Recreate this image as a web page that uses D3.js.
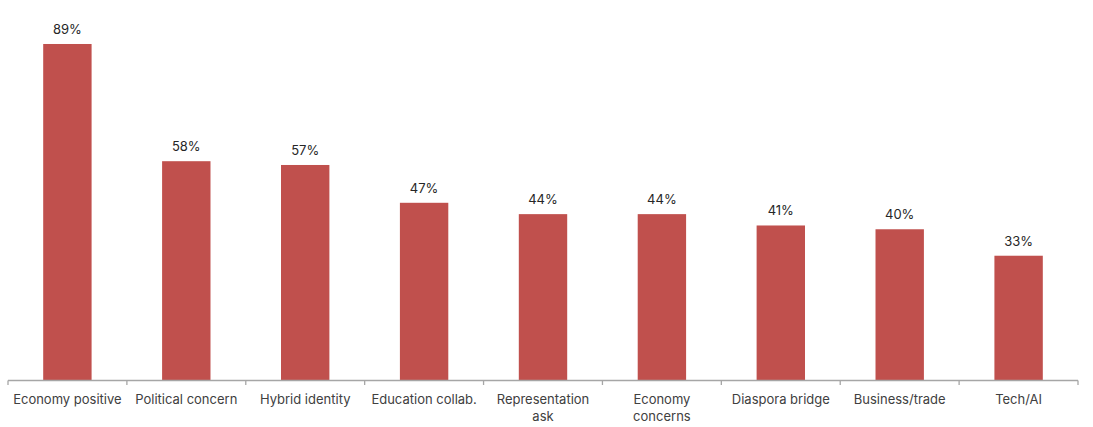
<!DOCTYPE html>
<html>
<head>
<meta charset="utf-8">
<script src="https://cdn.jsdelivr.net/npm/d3@7"></script>
<style>
  html, body { margin: 0; padding: 0; background: #fff; }
  svg { display: block; }
  text { font-family: Inter, "Noto Sans", sans-serif; }
</style>
</head>
<body>
<svg id="chart" width="1093" height="427"></svg>
<script>
const categories = ["Economy positive", "Political concern", "Hybrid identity", "Education collab.", "Representation\nask", "Economy\nconcerns", "Diaspora bridge", "Business/trade", "Tech/AI"];
const values = [89, 58, 57, 47, 44, 44, 41, 40, 33];
const valueLabels = ["89%", "58%", "57%", "47%", "44%", "44%", "41%", "40%", "33%"];

const svg = d3.select("#chart");
const x = d3.scaleBand().domain(categories).range([8, 1078]).paddingInner(0.593).paddingOuter(0.296);
const y = d3.scaleLinear().domain([0, 100]).range([380.5, 2.4]);

svg.selectAll("rect.bar").data(values).join("rect")
  .attr("class", "bar")
  .attr("x", (d, i) => x(categories[i]))
  .attr("width", x.bandwidth())
  .attr("y", d => y(d))
  .attr("height", d => y(0) - y(d))
  .attr("fill", "#C0504D");

svg.selectAll("text.val").data(values).join("text")
  .attr("class", "val")
  .attr("x", (d, i) => x(categories[i]) + x.bandwidth() / 2)
  .attr("y", d => y(d) - 10)
  .attr("text-anchor", "middle")
  .attr("font-size", 13)
  .attr("fill", "#262626")
  .text((d, i) => valueLabels[i]);

// axis with ticks at band boundaries
const x0 = 8;
const axisG = svg.append("g");
axisG.append("line")
  .attr("x1", x0).attr("x2", 1078)
  .attr("y1", y(0)).attr("y2", y(0))
  .attr("stroke", "#a6a6a6").attr("stroke-width", 1.3);
const bounds = d3.range(categories.length + 1).map(i => x0 + i * (1070 / categories.length));
axisG.selectAll("line.tick").data(bounds).join("line")
  .attr("class", "tick")
  .attr("x1", d => d).attr("x2", d => d)
  .attr("y1", y(0)).attr("y2", y(0) + 4.5)
  .attr("stroke", "#a6a6a6").attr("stroke-width", 1.3);

const labels = svg.selectAll("text.cat").data(categories).join("text")
  .attr("class", "cat")
  .attr("text-anchor", "middle")
  .attr("font-size", 13)
  .attr("fill", "#404040")
  .attr("transform", d => `translate(${x(d) + x.bandwidth() / 2},404)`);
labels.each(function(d) {
  const lines = d.split("\n");
  d3.select(this).selectAll("tspan").data(lines).join("tspan")
    .attr("x", 0)
    .attr("y", (l, i) => i * 17)
    .text(l => l);
});
</script>
</body>
</html>
